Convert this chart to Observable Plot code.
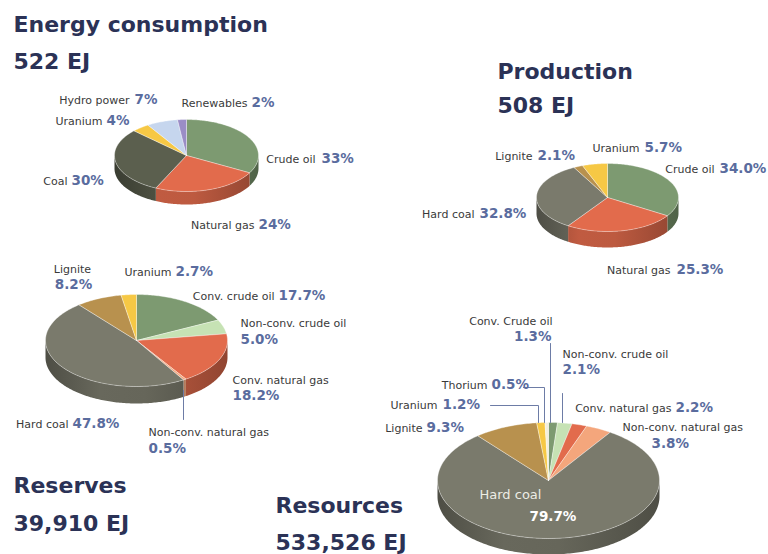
<!DOCTYPE html>
<html><head><meta charset="utf-8">
<script src="https://cdn.jsdelivr.net/npm/d3@7"></script>
<script src="https://cdn.jsdelivr.net/npm/@observablehq/plot@0.6"></script>
<style>
body{margin:0;background:#fff;}
g[aria-label="titles"]{filter:drop-shadow(1px 1.5px 1.2px rgba(40,40,70,0.35));}
</style></head><body><div id="chart"></div>
<script>
// ---- data ----
const panelTitles = ["Energy consumption", "Production", "Reserves", "Resources"];
const panelTotals = ["522 EJ", "508 EJ", "39,910 EJ", "533,526 EJ"];

const consumptionCategories = ["Crude oil", "Natural gas", "Coal", "Uranium", "Hydro power", "Renewables"];
const consumptionShares = [33, 24, 30, 4, 7, 2];

const productionCategories = ["Crude oil", "Natural gas", "Hard coal", "Lignite", "Uranium"];
const productionShares = [34.0, 25.3, 32.8, 2.1, 5.7];

const reservesCategories = ["Conv. crude oil", "Non-conv. crude oil", "Conv. natural gas", "Non-conv. natural gas", "Hard coal", "Lignite", "Uranium"];
const reservesShares = [17.7, 5.0, 18.2, 0.5, 47.8, 8.2, 2.7];

const resourcesCategories = ["Conv. Crude oil", "Non-conv. crude oil", "Conv. natural gas", "Non-conv. natural gas", "Hard coal", "Lignite", "Uranium", "Thorium"];
const resourcesShares = [1.3, 2.1, 2.2, 3.8, 79.7, 9.3, 1.2, 0.5];

// ---- style / layout ----
const sliceColors = {
  "Crude oil": "#7d9a71", "Conv. crude oil": "#7d9a71", "Conv. Crude oil": "#7d9a71",
  "Natural gas": "#e26b4c", "Conv. natural gas": "#e26b4c",
  "Coal": "#5b5f4e", "Hard coal": "#7a7a6c", "Lignite": "#b8914e",
  "Uranium": "#f6c845", "Hydro power": "#c6d6ee", "Renewables": "#9a8dc6",
  "Non-conv. crude oil": "#c6e2b4", "Non-conv. natural gas": "#f4a67c", "Thorium": "#f3efdc"
};
const pieLayout = [
  {cx: 186, cy: 155, rx: 72, ry: 36, depth: 13},
  {cx: 607, cy: 197, rx: 71, ry: 34, depth: 16},
  {cx: 136, cy: 340, rx: 91, ry: 46, depth: 17},
  {cx: 548, cy: 480, rx: 111, ry: 58, depth: 16}
];
const titleLayout = [[13, 31, 68], [497, 78, 112], [13, 492, 530], [275, 512, 549]];
// [nameX, nameY, nameAnchor, pctX, pctY, pctAnchor]
const labelLayout = [
  [[315,162,"end",321,162,"start"], [254,228,"end",258,228,"start"], [67,184,"end",71,184,"start"],
   [102,124,"end",106,124,"start"], [129,103,"end",134,103,"start"], [247,106,"end",251,106,"start"]],
  [[714,172,"end",719,172,"start"], [670,273,"end",676,273,"start"], [474,217,"end",479,217,"start"],
   [532,159,"end",537,159,"start"], [639,151,"end",644,151,"start"]],
  [[274,299,"end",278,299,"start"], [240,326,"start",240,343,"start"], [232,383,"start",232,399,"start"],
   [148,435,"start",148,452,"start"], [68,427,"end",72,427,"start"], [72,272,"middle",73,288,"middle"],
   [171,275,"end",175,275,"start"]],
  [[552,324,"end",551,340,"end"], [562,357,"start",562,373,"start"], [671,411,"end",675,411,"start"],
   [622,430,"start",651,447,"start"], [479,498,"start",529,520,"start"], [422,431,"end",426,431,"start"],
   [437,408,"end",442,408,"start"], [487,388,"end",491,388,"start"]]
];
const leaderLayout = [
  [[183,390],[183,419]],
  [[550,343],[550,422]],
  [[562,393],[562,422]],
  [[523,387],[544,387],[544,422]],
  [[490,405],[538,405],[538,422]]
];

const panels = [
  {cats: consumptionCategories, vals: consumptionShares, digits: 0},
  {cats: productionCategories, vals: productionShares, digits: 1},
  {cats: reservesCategories, vals: reservesShares, digits: 1},
  {cats: resourcesCategories, vals: resourcesShares, digits: 1}
];

const deg = Math.PI / 180;
const topRows = [], sideRows = [], nameRows = [], pctRows = [], titleRows = [], gradients = [];
panels.forEach((p, pi) => {
  const L = pieLayout[pi];
  const pt = (t, dz = 0) => ({x: L.cx + L.rx * Math.sin(t), y: L.cy - L.ry * Math.cos(t) + dz});
  const arcs = d3.pie().sort(null).value(d => d)(p.vals);
  arcs.forEach((a, i) => {
    const color = sliceColors[p.cats[i]];
    const id = pi + "-" + i;
    const n = Math.max(2, Math.ceil((a.endAngle - a.startAngle) / deg));
    const poly = [{x: L.cx, y: L.cy}];
    for (let k = 0; k <= n; k++) poly.push(pt(a.startAngle + (a.endAngle - a.startAngle) * k / n));
    poly.push({x: L.cx, y: L.cy});
    poly.forEach(q => topRows.push({...q, id, fill: color}));
    const s = Math.max(a.startAngle, Math.PI / 2), e = Math.min(a.endAngle, 3 * Math.PI / 2);
    if (e > s) {
      const m = Math.max(2, Math.ceil((e - s) / deg));
      const upper = [], lower = [];
      for (let k = 0; k <= m; k++) {
        const t = s + (e - s) * k / m;
        upper.push(pt(t)); lower.push(pt(t, L.depth));
      }
      const gid = "side-" + id;
      gradients.push({gid, color, x1: L.cx - L.rx, x2: L.cx + L.rx});
      [...upper, ...lower.reverse()].forEach(q => sideRows.push({...q, id, fill: `url(#${gid})`}));
    }
    const lay = labelLayout[pi][i];
    const inside = pi === 3 && p.cats[i] === "Hard coal";
    nameRows.push({x: lay[0], y: lay[1], anchor: lay[2], text: p.cats[i],
      fill: inside ? "#ecece4" : "#3a3a3a", size: inside ? 13 : 11});
    pctRows.push({x: lay[3], y: lay[4], anchor: lay[5], text: p.vals[i].toFixed(p.digits) + "%",
      fill: inside ? "#ffffff" : "#5a6c9e", size: 13.5});
  });
  titleRows.push({x: titleLayout[pi][0], y: titleLayout[pi][1], text: panelTitles[pi]});
  titleRows.push({x: titleLayout[pi][0], y: titleLayout[pi][2], text: panelTotals[pi]});
});
const leaderRows = leaderLayout.flatMap((pts, j) => pts.map(([x, y]) => ({x, y, id: j})));

const textMarks = (rows, weight) => ["start", "middle", "end"].map(anchor =>
  Plot.text(rows.filter(r => r.anchor === anchor), {
    x: "x", y: "y", text: "text", fill: "fill", fontSize: "size",
    textAnchor: anchor, lineAnchor: "bottom", fontWeight: weight
  }));

const chart = Plot.plot({
  width: 768, height: 554, margin: 0,
  x: {domain: [0, 768], range: [0, 768], axis: null},
  y: {domain: [0, 554], range: [0, 554], axis: null},
  color: {type: "identity"},
  style: {fontFamily: "DejaVu Sans", background: "#fff"},
  marks: [
    Plot.line(sideRows, {x: "x", y: "y", z: "id", fill: "fill", stroke: "none"}),
    Plot.line(topRows, {x: "x", y: "y", z: "id", fill: "fill", stroke: "#ffffff", strokeOpacity: 0.5, strokeWidth: 0.7, strokeLinejoin: "round"}),
    Plot.line(leaderRows, {x: "x", y: "y", z: "id", stroke: "#6d7ca6", strokeWidth: 1}),
    ...textMarks(nameRows, "normal"),
    ...textMarks(pctRows, "bold"),
    Plot.text(titleRows, {x: "x", y: "y", text: "text", textAnchor: "start", lineAnchor: "bottom",
      fontSize: 22, fontWeight: "bold", fill: "#2b3256", ariaLabel: "titles"})
  ]
});
// side-wall shading gradients, positioned through the chart's x scale
const xs = chart.scale("x");
const defs = d3.select(chart).insert("defs", ":first-child");
gradients.forEach(g => {
  const lg = defs.append("linearGradient").attr("id", g.gid).attr("gradientUnits", "userSpaceOnUse")
    .attr("x1", xs.apply(g.x1)).attr("x2", xs.apply(g.x2)).attr("y1", 0).attr("y2", 0);
  [[0, 1.25], [0.3, 0.45], [0.55, 0.5], [1, 1.25]].forEach(([o, k]) =>
    lg.append("stop").attr("offset", o).attr("stop-color", d3.color(g.color).darker(k).formatHex()));
});
document.getElementById("chart").appendChild(chart);
</script></body></html>
